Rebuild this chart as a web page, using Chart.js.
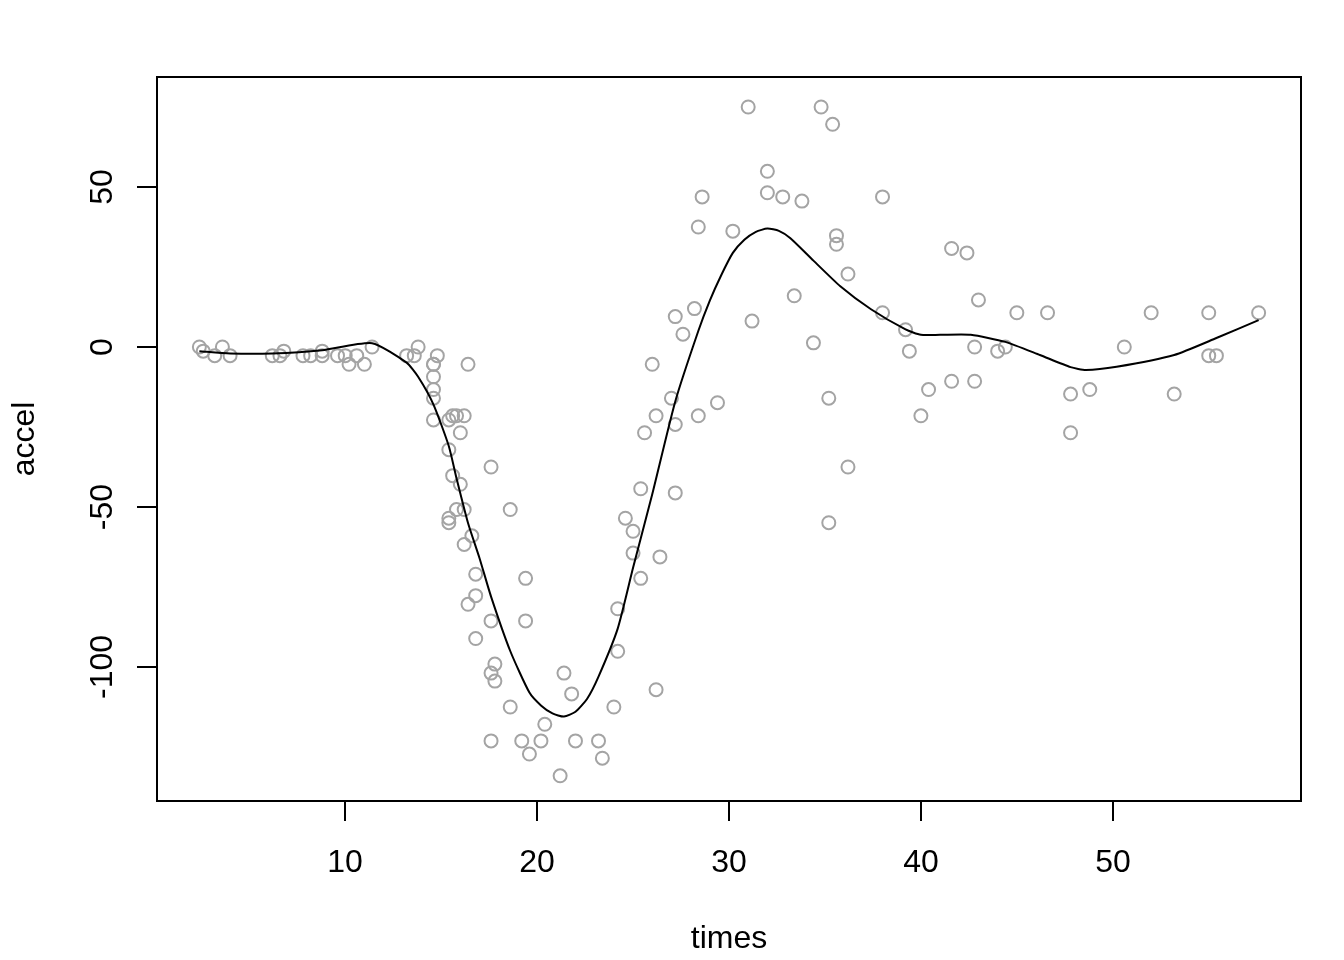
<!DOCTYPE html>
<html>
<head>
<meta charset="utf-8">
<script src="https://cdn.jsdelivr.net/npm/chart.js@4"></script>
<style>
  html, body { margin: 0; padding: 0; background: #fff; }
  #wrap { width: 1344px; height: 960px; }
</style>
</head>
<body>
<div id="wrap"><canvas id="accelChart" width="1344" height="960"></canvas></div>
<script>
// mcycle data: times (ms) and head acceleration (g)
const times = [2.4, 2.6, 3.2, 3.6, 4.0, 6.2, 6.6, 6.8, 7.8, 8.2, 8.8, 8.8, 9.6, 10.0, 10.2, 10.6, 11.0, 11.4, 13.2, 13.6,
  13.8, 14.6, 14.6, 14.6, 14.6, 14.6, 14.6, 14.8, 15.4, 15.4, 15.4, 15.4, 15.6, 15.6, 15.8, 15.8, 16.0, 16.0, 16.2, 16.2,
  16.2, 16.4, 16.4, 16.6, 16.8, 16.8, 16.8, 17.6, 17.6, 17.6, 17.6, 17.8, 17.8, 18.6, 18.6, 19.2, 19.4, 19.4, 19.6, 20.2,
  20.4, 21.2, 21.4, 21.8, 22.0, 23.2, 23.4, 24.0, 24.2, 24.2, 24.6, 25.0, 25.0, 25.4, 25.4, 25.6, 26.0, 26.2, 26.2, 26.4,
  27.0, 27.2, 27.2, 27.2, 27.6, 28.2, 28.4, 28.4, 28.6, 29.4, 30.2, 31.0, 31.2, 32.0, 32.0, 32.8, 33.4, 33.8, 34.4, 34.8,
  35.2, 35.2, 35.4, 35.6, 35.6, 36.2, 36.2, 38.0, 38.0, 39.2, 39.4, 40.0, 40.4, 41.6, 41.6, 42.4, 42.8, 42.8, 43.0, 44.0,
  44.4, 45.0, 46.6, 47.8, 47.8, 48.8, 50.6, 52.0, 53.2, 55.0, 55.0, 55.4, 57.6];
const accel = [0.0, -1.3, -2.7, 0.0, -2.7, -2.7, -2.7, -1.3, -2.7, -2.7, -1.3, -2.7, -2.7, -2.7, -5.4, -2.7, -5.4, 0.0, -2.7, -2.7,
  0.0, -13.3, -5.4, -5.4, -9.3, -16.0, -22.8, -2.7, -22.8, -32.1, -53.5, -54.9, -40.2, -21.5, -21.5, -50.8, -42.9, -26.8, -21.5, -50.8,
  -61.7, -5.4, -80.4, -59.0, -71.0, -91.1, -77.7, -37.5, -85.6, -123.1, -101.9, -99.1, -104.4, -112.5, -50.8, -123.1, -85.6, -72.3, -127.2, -123.1,
  -117.9, -134.0, -101.9, -108.4, -123.1, -123.1, -128.5, -112.5, -95.1, -81.8, -53.5, -64.4, -57.6, -72.3, -44.3, -26.8, -5.4, -107.1, -21.5, -65.6,
  -16.0, -45.6, -24.2, 9.5, 4.0, 12.0, -21.5, 37.5, 46.9, -17.4, 36.2, 75.0, 8.1, 54.9, 48.2, 46.9, 16.0, 45.6, 1.3, 75.0,
  -16.0, -54.9, 69.6, 34.8, 32.1, -37.5, 22.8, 46.9, 10.7, 5.4, -1.3, -21.5, -13.3, 30.8, -10.7, 29.4, 0.0, -10.7, 14.7, -1.3,
  0.0, 10.7, 10.7, -26.8, -14.7, -13.3, 0.0, 10.7, -14.7, -2.7, 10.7, -2.7, 10.7];

// smooth curve
const smoothX = [2.4, 4.0, 6.2, 8.8, 11.4, 13.2, 13.8, 14.6, 15.4, 15.8, 16.4, 17.0, 17.6, 18.6, 19.6, 20.2, 20.8, 21.4, 22.0, 22.6,
  23.2, 24.2, 25.0, 26.0, 27.2, 28.4, 29.0, 29.6, 30.2, 30.8, 31.4, 32.0, 32.6, 33.2, 34.4, 35.8, 37.4, 39.2, 40.0, 41.0,
  42.6, 44.4, 46.2, 47.8, 48.6, 50.2, 53.2, 55.4, 57.6];
const smoothY = [-1.3, -2, -2, -1, 1.2, -4.9, -9.3, -18, -31, -41, -55, -66, -78, -95, -108, -112, -114.5, -115.5, -114, -110,
  -103, -88, -69, -46, -17, 5, 14.5, 22.5, 29.4, 33.5, 36, 37, 36.3, 34, 27, 19, 11.8, 5.5, 3.8, 3.8,
  3.8, 1.6, -2.5, -6.3, -7.2, -6.2, -2.5, 2.8, 8.4];

const xTicks = [10, 20, 30, 40, 50];
const yTicks = [-100, -50, 0, 50];

const FONT = '32px "Liberation Sans", Arial, sans-serif';

// R-style box, ticks and labels
const baseAxes = {
  id: 'baseAxes',
  afterDraw(chart) {
    const ctx = chart.ctx;
    const area = chart.chartArea;
    const xs = chart.scales.x, ys = chart.scales.y;
    ctx.save();
    ctx.strokeStyle = '#000';
    ctx.lineWidth = 2;
    ctx.strokeRect(area.left, area.top, area.right - area.left, area.bottom - area.top);

    ctx.fillStyle = '#000';
    ctx.font = FONT;
    ctx.textAlign = 'center';
    ctx.textBaseline = 'alphabetic';
    xTicks.forEach(v => {
      const px = Math.round(xs.getPixelForValue(v));
      ctx.beginPath();
      ctx.moveTo(px, area.bottom);
      ctx.lineTo(px, area.bottom + 20);
      ctx.stroke();
      ctx.fillText(String(v), px, 872);
    });
    yTicks.forEach(v => {
      const py = Math.round(ys.getPixelForValue(v));
      ctx.beginPath();
      ctx.moveTo(area.left, py);
      ctx.lineTo(area.left - 20, py);
      ctx.stroke();
      ctx.save();
      ctx.translate(112, py);
      ctx.rotate(-Math.PI / 2);
      ctx.fillText(String(v), 0, 0);
      ctx.restore();
    });

    ctx.fillText('times', (area.left + area.right) / 2, 948);
    ctx.save();
    ctx.translate(34, (area.top + area.bottom) / 2);
    ctx.rotate(-Math.PI / 2);
    ctx.fillText('accel', 0, 0);
    ctx.restore();
    ctx.restore();
  }
};

const points = times.map((t, i) => ({ x: t, y: accel[i] }));
const curve = smoothX.map((t, i) => ({ x: t, y: smoothY[i] }));

new Chart(document.getElementById('accelChart').getContext('2d'), {
  type: 'scatter',
  data: {
    datasets: [
      {
        label: 'smooth',
        data: curve,
        showLine: true,
        borderColor: '#000',
        borderWidth: 2,
        pointRadius: 0,
        tension: 0.2,
        fill: false,
        order: 0
      },
      {
        label: 'accel',
        data: points,
        pointStyle: 'circle',
        pointRadius: 6.5,
        pointBorderWidth: 2,
        borderColor: '#a4a4a4',
        backgroundColor: 'rgba(0,0,0,0)',
        order: 1
      }
    ]
  },
  options: {
    responsive: false,
    animation: false,
    events: [],
    layout: { padding: { left: 157, right: 43, top: 77, bottom: 159 } },
    plugins: { legend: { display: false }, tooltip: { enabled: false } },
    scales: {
      x: { type: 'linear', min: 0.192, max: 59.808, display: false },
      y: { type: 'linear', min: -141.875, max: 84.375, display: false }
    }
  },
  plugins: [baseAxes]
});
</script>
</body>
</html>
